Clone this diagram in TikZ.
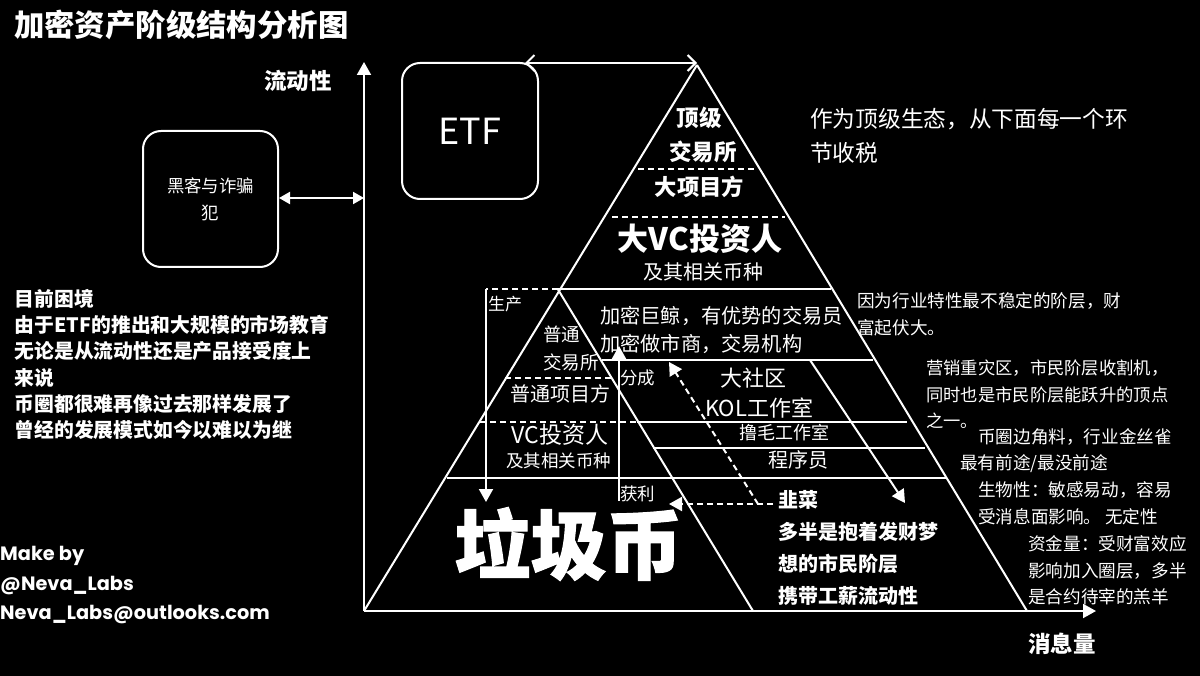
\documentclass[tikz,border=0pt]{standalone}
\usepackage{fontspec}
\setmainfont{Noto Sans CJK SC}
\newfontfamily\popfont{Poppins}
\usetikzlibrary{arrows.meta}
\tikzset{
  ln/.style={draw=white,line width=2pt},
  dsh/.style={ln,dash pattern=on 6pt off 4pt},
  solidhead/.style={-{Triangle[length=13pt,width=14pt]}},
  dblhead/.style={{Triangle[length=11pt,width=12pt]}-{Triangle[length=11pt,width=12pt]}},
  barbhead/.style={{Straight Barb[length=8pt,width=16pt]}-{Straight Barb[length=8pt,width=16pt]}},
  box/.style={ln,rounded corners=18pt,minimum width=136pt,minimum height=136pt,inner sep=0pt,text=white,anchor=north west,align=center},
  fs/.style n args={2}{text=white,inner sep=0pt,align=left,font=\fontsize{#1}{#2}\selectfont},
  bfs/.style n args={2}{text=white,inner sep=0pt,align=left,font=\fontsize{#1}{#2}\selectfont\bfseries},
  pfs/.style n args={2}{text=white,inner sep=0pt,align=left,font=\popfont\fontsize{#1}{#2}\selectfont\bfseries},
}
\begin{document}
\begin{tikzpicture}[x=1pt,y=-1pt]
\fill[black] (0,0) rectangle (1200,676);
\useasboundingbox (0,0) rectangle (1200,676);
% key points
\coordinate (O) at (364,611);
\coordinate (Yend) at (364,62);
\coordinate (Xend) at (1096,611);
\coordinate (A) at (697,65);
\coordinate (BR) at (1027,611);
\coordinate (M) at (558,289.5);
\coordinate (MB) at (753,611);
\coordinate (H) at (364,198);
% axes and pyramid
\draw[ln,solidhead] (O) -- (Yend);
\draw[ln,solidhead] (O) -- (Xend);
\draw[ln] (A) -- (O);
\draw[ln] (A) -- (BR);
\draw[ln] (M) -- (MB);
% layers
\coordinate (d1a) at (638,169); \coordinate (d1b) at (757,169);
\coordinate (d2a) at (612,217); \coordinate (d2b) at (785,217);
\coordinate (l1b) at (831,289.5);
\coordinate (l2a) at (602,360); \coordinate (l2b) at (873,360);
\coordinate (d3a) at (505,378); \coordinate (d3b) at (613,378);
\coordinate (d4a) at (480,422); \coordinate (l3a) at (637,422); \coordinate (l3b) at (907,422);
\coordinate (l4a) at (653,448); \coordinate (l4b) at (925,448);
\coordinate (l5a) at (447,477.5); \coordinate (l5b) at (947,477.5);
\draw[dsh] (d1a) -- (d1b);
\draw[dsh] (d2a) -- (d2b);
\draw[ln] (M) -- (l1b);
\draw[ln] (l2a) -- (l2b);
\draw[dsh] (d3a) -- (d3b);
\draw[dsh] (d4a) -- (l3a);
\draw[ln] (l3a) -- (l3b);
\draw[ln] (l4a) -- (l4b);
\draw[ln] (l5a) -- (l5b);
% flows
\coordinate (P1) at (486,289.5);
\coordinate (P2) at (486,502);
\draw[dsh] (M) -- (P1);
\draw[ln,solidhead] (P1) -- (P2);
\coordinate (F1) at (619,501);
\coordinate (F2) at (619,346);
\draw[ln,solidhead] (F1) -- (F2);
\coordinate (S1) at (810,360);
\coordinate (S2) at (905,503);
\draw[ln,solidhead] (S1) -- (S2);
\coordinate (T1) at (758,504);
\coordinate (T2) at (669,362);
\draw[dsh,solidhead] (T1) -- (T2);
\coordinate (J) at (773,504);
\coordinate (JT) at (669,504);
\draw[dsh,solidhead] (J) -- (JT);
% boxes
\node[box,font=\fontsize{36}{40}\selectfont] (etf) at (401,62) {ETF};
\node[box,font=\fontsize{17.4}{27}\selectfont,minimum width=135pt] (hack) at (142,130) {黑客与诈骗\\犯};
\coordinate (EA) at (525,63);
\coordinate (EB) at (697,63);
\draw[ln,barbhead] (EA) -- (EB);
\draw[ln,dblhead] (hack.east |- H) -- (H);
% titles
\node[bfs={30.4}{36},anchor=west] (title) at (14,25) {加密资产阶级结构分析图};
\node[bfs={22.5}{26},anchor=west] (yl) at (264,81) {流动性};
\node[bfs={22.5}{26},anchor=west] (xl) at (1028,644) {消息量};
% top pyramid
\node[bfs={22.5}{34}] (t1) at (699,118) {顶级};
\node[bfs={22.5}{34}] (t2) at (703,152) {交易所};
\node[bfs={22.3}{26}] (t3) at (699.5,187) {大项目方};
\node[bfs={31}{36}] (t4) at (700,239) {大VC投资人};
\node[fs={20}{24}] (t5) at (703,272) {及其相关币种};
% middle right
\node[fs={20.2}{28.5},anchor=west] (m1) at (600,330) {加密巨鲸，有优势的交易员\\加密做市商，交易机构};
\node[fs={22}{31}] (m2) at (753,378) {大社区};
\node[fs={22}{31}] (m3) at (759,408) {KOL工作室};
\node[fs={18}{22}] (m4) at (784,433) {撸毛工作室};
\node[fs={20}{24}] (m5) at (798,460) {程序员};
% inner pyramid
\node[fs={18.5}{27},anchor=west] (i1) at (543,334) {普通};
\node[fs={18.5}{27},anchor=west] (i2) at (543,362) {交易所};
\node[fs={20}{24}] (i3) at (560.5,394) {普通项目方};
\node[fs={23}{26}] (i4) at (560,435) {VC投资人};
\node[fs={17.5}{22}] (i5) at (558.5,461) {及其相关币种};
\node[fs={17}{20},anchor=west] (lp) at (488,304) {生产};
\node[fs={17.5}{20},anchor=west] (lf) at (620,378) {分成};
\node[fs={17.5}{20},anchor=west] (lh) at (620,494) {获利};
% bottom
\node[bfs={76}{80},font=\fontsize{76}{80}\selectfont\bfseries\addfontfeature{FakeBold=1.5}] (junk) at (568.5,544) {垃圾币};
\node[bfs={20}{32},anchor=west] (jc) at (778,548) {韭菜\\多半是抱着发财梦\\想的市民阶层\\携带工薪流动性};
% right notes
\node[fs={22.7}{33.5},anchor=west] (n0) at (810,136) {作为顶级生态，从下面每一个环\\节收税};
\node[fs={17.6}{27},anchor=west] (n1) at (857,314.5) {因为行业特性最不稳定的阶层，财\\富起伏大。};
\node[fs={17.3}{26.5},anchor=west] (n2) at (926,394.5) {营销重灾区，市民阶层收割机，\\同时也是市民阶层能跃升的顶点\\之一。};
\node[fs={17.6}{27},anchor=west] (n3) at (978,437) {币圈边角料，行业金丝雀};
\node[fs={17.6}{27},anchor=west] (n4) at (960,464) {最有前途/最没前途};
\node[fs={17.6}{27},anchor=west] (n5) at (978,503.5) {生物性：敏感易动，容易\\受消息面影响。 无定性};
\node[fs={17.6}{26.5},anchor=west] (n6) at (1028,570.5) {资金量：受财富效应\\影响加入圈层，多半\\是合约待宰的羔羊};
% left notes
\node[bfs={19.8}{26.2},anchor=west] (prob) at (14.5,364.5) {目前困境\\由于ETF的推出和大规模的市场教育\\无论是从流动性还是产品接受度上\\来说\\币圈都很难再像过去那样发展了\\曾经的发展模式如今以难以为继};
\node[pfs={19.3}{29.5},anchor=west] (make) at (0,585.5) {Make by\\@Neva\_Labs\\Neva\_Labs@outlooks.com};
\end{tikzpicture}
\end{document}
